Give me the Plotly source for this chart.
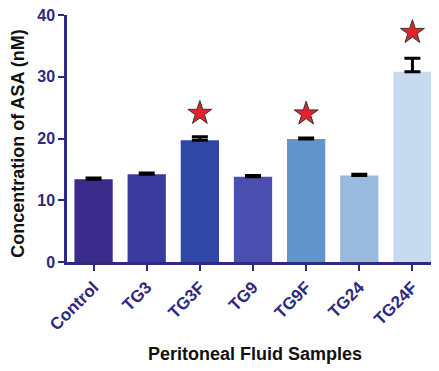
import plotly.graph_objects as go

categories = ["Control", "TG3", "TG3F", "TG9", "TG9F", "TG24", "TG24F"]
values = [13.4, 14.2, 19.7, 13.8, 19.9, 14.0, 30.8]
errors = [0.2, 0.2, 0.6, 0.2, 0.2, 0.2, 2.2]
bar_colors = ["#3a2a8a", "#3a3a9f", "#2f47a5", "#4b50b0", "#6395cc", "#9ab9df", "#c6daf0"]
star_categories = ["TG3F", "TG9F", "TG24F"]
star_values = [24.1, 24.0, 37.2]

navy = "#2e2a80"
font_family = "Liberation Sans, Arial, sans-serif"

fig = go.Figure()
fig.add_trace(go.Bar(
    x=categories, y=values, width=0.72,
    marker=dict(color=bar_colors, line=dict(width=0)),
    error_y=dict(type="data", array=errors, arrayminus=[0]*len(errors), symmetric=False,
                 color="black", thickness=3, width=8),
    showlegend=False,
))
fig.add_trace(go.Scatter(
    x=star_categories, y=star_values, mode="markers",
    marker=dict(symbol="star", size=18, color="#e3222b", line=dict(color="#333333", width=1)),
    showlegend=False,
))

fig.update_layout(
    width=431, height=363,
    margin=dict(l=59, r=0, t=7, b=109),
    plot_bgcolor="white", paper_bgcolor="white",
    font=dict(family=font_family),
    xaxis=dict(
        range=[-0.5, 6.5], showline=True, linecolor=navy, linewidth=2.5,
        ticks="outside", tickcolor=navy, ticklen=6, tickwidth=2,
        tickangle=-45, tickfont=dict(size=17, color=navy, weight="bold"),
        showgrid=False, zeroline=False,
    ),
    yaxis=dict(
        range=[0, 40], tickvals=[0, 10, 20, 30, 40], showline=True, linecolor=navy, linewidth=2.5,
        ticks="outside", tickcolor=navy, ticklen=6, tickwidth=2,
        tickfont=dict(size=16, color=navy, weight="bold"),
        ticklabeloverflow="allow",
        showgrid=False, zeroline=False,
    ),
    annotations=[
        dict(text="Peritoneal Fluid Samples", xref="paper", yref="paper", x=0.505, y=-0.373,
             xanchor="center", yanchor="middle", showarrow=False,
             font=dict(size=18, color="#111111", weight="bold")),
        dict(text="Concentration of ASA (nM)", xref="paper", yref="paper", x=-0.132, y=0.482,
             xanchor="center", yanchor="middle", textangle=-90, showarrow=False,
             font=dict(size=18, color="#111111", weight="bold")),
    ],
)

fig.write_html("out.html")
